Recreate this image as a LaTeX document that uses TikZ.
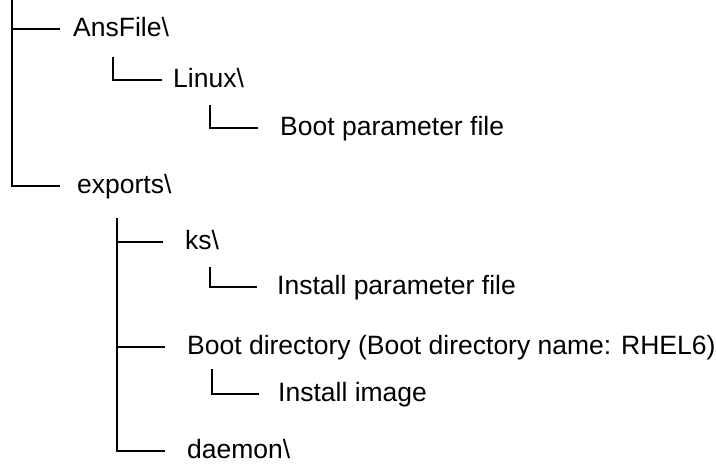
\documentclass[tikz,border=0pt]{standalone}
\usepackage{fontspec}
\setmainfont{Liberation Sans}
\usetikzlibrary{calc}

\begin{document}
\begin{tikzpicture}[
    x=1pt, y=-1pt,
    item/.style={anchor=west, inner sep=0pt, text height=20pt,
                 text depth=4pt, font=\fontsize{26.5}{30}\selectfont},
    branch/.style={line width=1.6pt}
  ]
  \useasboundingbox (0,0) rectangle (716,465);

  % folders and files
  \node[item] (ansfile)  at (73,29)  {AnsFile\textbackslash};
  \node[item] (linux)    at (173,80) {Linux\textbackslash};
  \node[item] (bootparm) at (280,128) {Boot parameter file};
  \node[item] (exports)  at (77,186) {exports\textbackslash};
  \node[item] (ks)       at (185,242) {ks\textbackslash};
  \node[item] (instparm) at (277,287) {Install parameter file};
  \node[item] (bootdir)  at (187,347)
    {Boot directory (Boot directory name: RHEL6)};
  \node[item] (instimg)  at (278,394) {Install image};
  \node[item] (daemon)   at (187,451) {daemon\textbackslash};

  % tops of the vertical lines
  \coordinate (trunk)   at (12,0);
  \coordinate (vlinux)  at (113,57);
  \coordinate (vboot)   at (210,105);
  \coordinate (vexp)    at (117,218);
  \coordinate (vks)     at (210,267);
  \coordinate (vbdir)   at (212,369);

  % last child: vertical line bends into the branch
  \foreach \top/\to/\gap in {trunk/exports/17, vlinux/linux/11,
                             vboot/bootparm/22, vexp/daemon/22,
                             vks/instparm/20, vbdir/instimg/19}
    \draw[branch] (\top) |- ([xshift=-\gap pt]\to.west);

  % other children: branch off the vertical line
  \foreach \top/\to/\gap in {trunk/ansfile/13, vexp/ks/22, vexp/bootdir/22}
    \draw[branch] (\top |- \to.west) -- ([xshift=-\gap pt]\to.west);
\end{tikzpicture}
\end{document}
